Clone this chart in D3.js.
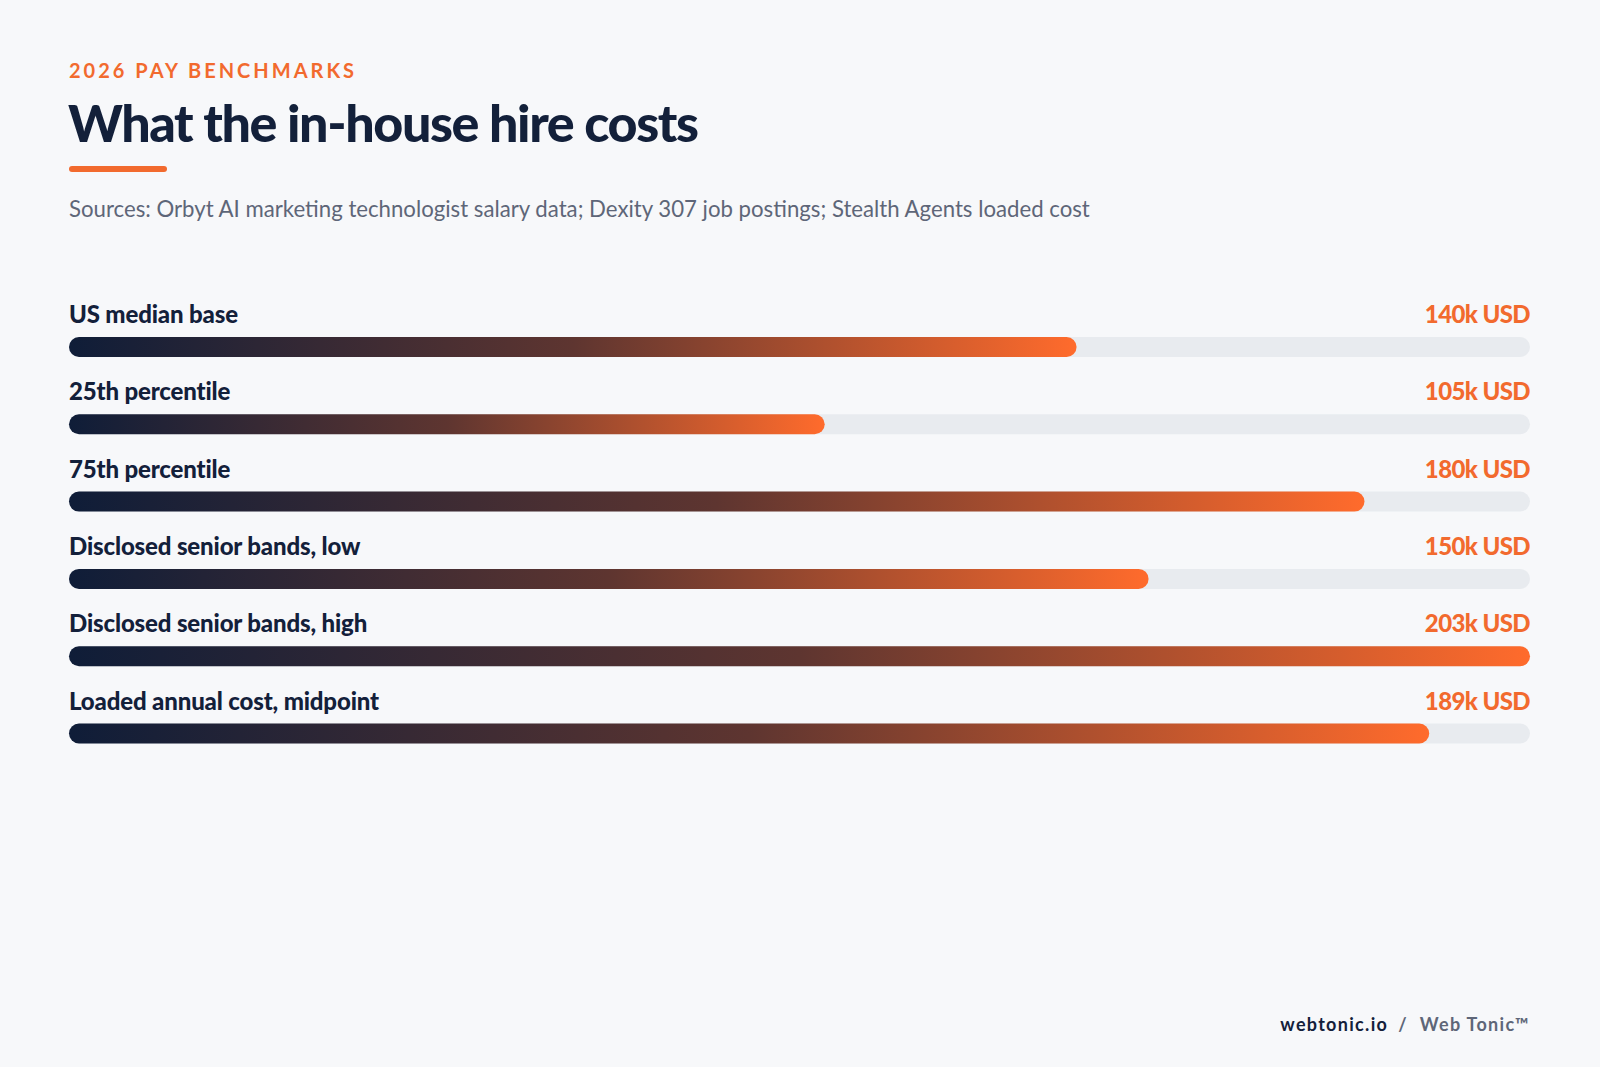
<!DOCTYPE html>
<html>
<head>
<meta charset="utf-8">
<script src="https://cdn.jsdelivr.net/npm/d3@7"></script>
<style>
  html, body { margin: 0; padding: 0; background: #f7f8fa; }
  svg { display: block; font-family: Lato, "Noto Sans", sans-serif; }
</style>
</head>
<body>
<div id="chart"></div>
<script>
// data
var categories = ["US median base", "25th percentile", "75th percentile",
  "Disclosed senior bands, low", "Disclosed senior bands, high", "Loaded annual cost, midpoint"];
var values = [140, 105, 180, 150, 203, 189];
var valueLabels = ["140k USD", "105k USD", "180k USD", "150k USD", "203k USD", "189k USD"];

var W = 1600, H = 1067;
var left = 69, right = 1530;
var navy = "#13203a", orange = "#f26a2e", grey = "#5e6678";

var svg = d3.select("#chart").append("svg")
    .attr("width", W)
    .attr("height", H);

svg.append("rect").attr("width", W).attr("height", H).attr("fill", "#f7f8fa");

// gradient for bars (per bar, bounding box)
var grad = svg.append("defs").append("linearGradient")
    .attr("id", "barGrad")
    .attr("x1", "0%").attr("x2", "100%").attr("y1", "0%").attr("y2", "0%");
grad.append("stop").attr("offset", "0%").attr("stop-color", "#0f1d38");
grad.append("stop").attr("offset", "50%").attr("stop-color", "#5e3530");
grad.append("stop").attr("offset", "100%").attr("stop-color", "#ff6b2c");

// header
svg.append("text")
    .attr("x", left).attr("y", 78)
    .attr("fill", orange)
    .style("font-size", "20px").style("font-weight", 700)
    .style("letter-spacing", "3px")
    .text("2026 PAY BENCHMARKS");

svg.append("text")
    .attr("x", left - 1).attr("y", 142)
    .attr("fill", navy)
    .style("font-size", "52px").style("font-weight", 900)
    .style("letter-spacing", "-1.4px")
    .text("What the in-house hire costs");

svg.append("rect")
    .attr("x", left).attr("y", 166)
    .attr("width", 98).attr("height", 6)
    .attr("rx", 3)
    .attr("fill", orange);

svg.append("text")
    .attr("x", left).attr("y", 217)
    .attr("fill", grey)
    .style("font-size", "22.2px")
    .text("Sources: Orbyt AI marketing technologist salary data; Dexity 307 job postings; Stealth Agents loaded cost");

// scales
var x = d3.scaleLinear()
    .domain([0, d3.max(values)])
    .range([0, right - left]);

var y = d3.scaleBand()
    .domain(categories)
    .range([290, 290 + 77.3 * categories.length])
    .paddingInner(0);

var barH = 20;

var rows = svg.selectAll(".row")
    .data(categories)
    .enter().append("g")
    .attr("class", "row")
    .attr("transform", function(d) { return "translate(" + left + "," + y(d) + ")"; });

rows.append("text")
    .attr("x", 0).attr("y", 33)
    .attr("fill", navy)
    .style("font-size", "24px").style("font-weight", 900)
    .style("letter-spacing", "-0.15px")
    .text(function(d) { return d; });

rows.append("text")
    .attr("x", right - left).attr("y", 33)
    .attr("text-anchor", "end")
    .attr("fill", orange)
    .style("font-size", "24px").style("font-weight", 900)
    .style("letter-spacing", "-0.6px")
    .text(function(d, i) { return valueLabels[i]; });

rows.append("rect")
    .attr("class", "track")
    .attr("x", 0).attr("y", 47)
    .attr("width", x.range()[1])
    .attr("height", barH)
    .attr("rx", barH / 2)
    .attr("fill", "#e8ebef");

rows.append("rect")
    .attr("class", "bar")
    .attr("x", 0).attr("y", 47)
    .attr("width", function(d, i) { return x(values[i]); })
    .attr("height", barH)
    .attr("rx", barH / 2)
    .attr("fill", "url(#barGrad)");

// footer
var foot = svg.append("text")
    .attr("x", right).attr("y", 1031)
    .attr("text-anchor", "end")
    .style("font-size", "18px").style("font-weight", 700)
    .style("letter-spacing", "1.3px");
foot.append("tspan").attr("fill", navy).text("webtonic.io");
foot.append("tspan").attr("fill", grey).attr("dx", 10).text("/");
foot.append("tspan").attr("fill", grey).attr("dx", 12).text("Web Tonic\u2122");
</script>
</body>
</html>
